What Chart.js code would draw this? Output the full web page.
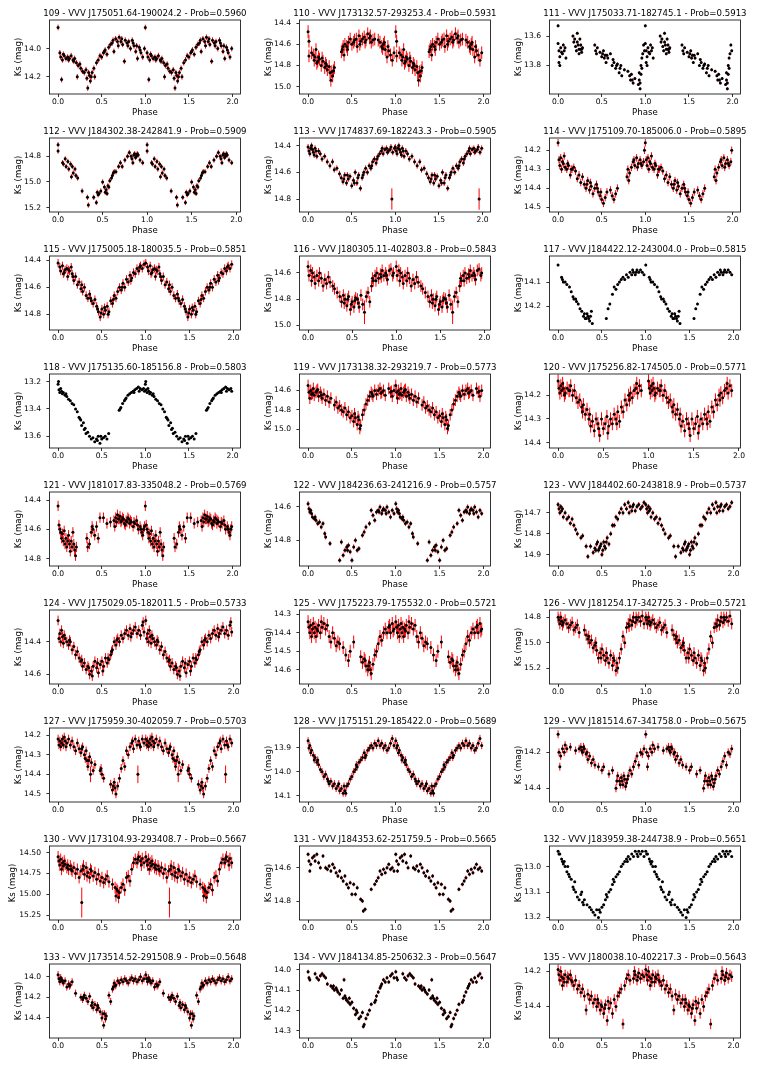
<!DOCTYPE html>
<html><head><meta charset="utf-8">
<script src="https://cdn.jsdelivr.net/npm/chart.js@4.4.1/dist/chart.umd.min.js"></script>
<style>
html,body{margin:0;padding:0;background:#fff;}
#fig{position:relative;width:764px;height:1077px;overflow:hidden;background:#fff;}
.pn{position:absolute;height:118px;}
</style></head><body><div id="fig"></div>
<script>
// ---------- panel titles ----------
const titles = [
"109 - VVV J175051.64-190024.2 - Prob=0.5960","110 - VVV J173132.57-293253.4 - Prob=0.5931","111 - VVV J175033.71-182745.1 - Prob=0.5913",
"112 - VVV J184302.38-242841.9 - Prob=0.5909","113 - VVV J174837.69-182243.3 - Prob=0.5905","114 - VVV J175109.70-185006.0 - Prob=0.5895",
"115 - VVV J175005.18-180035.5 - Prob=0.5851","116 - VVV J180305.11-402803.8 - Prob=0.5843","117 - VVV J184422.12-243004.0 - Prob=0.5815",
"118 - VVV J175135.60-185156.8 - Prob=0.5803","119 - VVV J173138.32-293219.7 - Prob=0.5773","120 - VVV J175256.82-174505.0 - Prob=0.5771",
"121 - VVV J181017.83-335048.2 - Prob=0.5769","122 - VVV J184236.63-241216.9 - Prob=0.5757","123 - VVV J184402.60-243818.9 - Prob=0.5737",
"124 - VVV J175029.05-182011.5 - Prob=0.5733","125 - VVV J175223.79-175532.0 - Prob=0.5721","126 - VVV J181254.17-342725.3 - Prob=0.5721",
"127 - VVV J175959.30-402059.7 - Prob=0.5703","128 - VVV J175151.29-185422.0 - Prob=0.5689","129 - VVV J181514.67-341758.0 - Prob=0.5675",
"130 - VVV J173104.93-293408.7 - Prob=0.5667","131 - VVV J184353.62-251759.5 - Prob=0.5665","132 - VVV J183959.38-244738.9 - Prob=0.5651",
"133 - VVV J173514.52-291508.9 - Prob=0.5648","134 - VVV J184134.85-250632.3 - Prob=0.5647","135 - VVV J180038.10-402217.3 - Prob=0.5643"];

// ---------- axis limits (top = brighter) and ticks ----------
const yTop    = [13.797,14.37,13.49, 14.658,14.343,14.135, 14.368,14.47,13.993, 13.145,14.432,14.11, 14.345,14.51,14.60, 14.206,14.277,14.742, 14.164,13.816,14.065, 14.42,14.47,12.919, 13.877,13.972,14.158];
const yBottom = [14.322,15.07,13.995, 15.234,14.897,14.526, 14.916,15.036,14.297, 13.685,15.191,14.423, 14.85,14.955,14.955, 14.659,14.677,15.326, 14.541,14.127,14.476, 15.31,14.914,13.21, 14.594,14.336,14.58];
const yTicks = [
 [14.0,14.2],[14.4,14.6,14.8,15.0],[13.6,13.8],
 [14.8,15.0,15.2],[14.4,14.6,14.8],[14.2,14.3,14.4,14.5],
 [14.4,14.6,14.8],[14.6,14.8,15.0],[14.1,14.2],
 [13.2,13.4,13.6],[14.6,14.8,15.0],[14.2,14.3,14.4],
 [14.4,14.6,14.8],[14.6,14.8],[14.7,14.8,14.9],
 [14.4,14.6],[14.3,14.4,14.5,14.6],[14.8,15.0,15.2],
 [14.2,14.3,14.4,14.5],[13.9,14.0,14.1],[14.2,14.4],
 [14.50,14.75,15.00,15.25],[14.6,14.8],[13.0,13.1,13.2],
 [14.0,14.2,14.4],[14.0,14.1,14.2,14.3],[14.2,14.4]];
const yDecimals = [1,1,1, 1,1,1, 1,1,1, 1,1,1, 1,1,1, 1,1,1, 1,1,1, 2,1,1, 1,1,1];
const xTicks = [0.0,0.5,1.0,1.5,2.0];
// typical Ks error of each star
const errs = [0.02,0.06,0.01, 0.02,0.022,0.02, 0.03,0.045,0.005, 0.006,0.06,0.028, 0.035,0.015,0.012, 0.03,0.035,0.045, 0.022,0.015,0.022, 0.07,0.012,0.003, 0.035,0.01,0.03];

// ---------- phase / Ks measurements (phase 0-1; the plot repeats them at phase+1) ----------
const d109 = [[0.00,13.85],[0.02,14.03],[0.03,14.06],[0.04,14.22],[0.05,14.08],[0.07,14.05],[0.09,14.07],[0.11,14.06],[0.13,14.07],[0.15,14.05],[0.17,14.08],[0.19,14.07],[0.21,14.10],[0.22,14.20],[0.23,14.12],[0.25,14.11],[0.28,14.16],[0.30,14.17],[0.32,14.15],[0.33,14.21],[0.34,14.28],[0.36,14.19],[0.37,14.23],[0.39,14.17],[0.41,14.14],[0.42,14.20],[0.44,14.10],[0.46,14.08],[0.48,14.05],[0.50,14.06],[0.52,14.03],[0.54,14.01],[0.56,14.04],[0.58,13.99],[0.60,13.97],[0.62,13.96],[0.64,14.02],[0.66,13.93],[0.68,13.95],[0.70,13.92],[0.72,13.95],[0.74,13.97],[0.76,14.09],[0.77,13.94],[0.79,13.96],[0.81,13.95],[0.83,14.00],[0.85,13.94],[0.87,13.98],[0.89,14.02],[0.91,14.07],[0.93,13.99],[0.95,14.03],[0.97,14.06],[0.99,14.00],[0.06,14.04],[0.12,14.08],[0.18,14.09],[0.26,14.14],[0.35,14.17],[0.38,14.20],[0.53,14.02],[0.63,13.94],[0.69,13.98],[0.73,13.93],[0.80,13.98],[0.86,13.96],[0.90,13.98],[0.94,14.01]];
const d110 = [[0.00,14.48],[0.01,14.57],[0.01,14.71],[0.06,14.70],[0.07,14.75],[0.08,14.72],[0.09,14.65],[0.10,14.78],[0.12,14.72],[0.13,14.74],[0.15,14.80],[0.17,14.76],[0.19,14.82],[0.20,14.78],[0.22,14.84],[0.24,14.81],[0.25,14.87],[0.26,14.94],[0.28,14.90],[0.29,14.85],[0.30,14.82],[0.38,14.67],[0.39,14.65],[0.41,14.70],[0.42,14.60],[0.44,14.62],[0.46,14.58],[0.48,14.55],[0.50,14.60],[0.52,14.58],[0.55,14.55],[0.56,14.62],[0.58,14.52],[0.60,14.57],[0.62,14.55],[0.64,14.53],[0.66,14.56],[0.68,14.50],[0.70,14.54],[0.72,14.58],[0.74,14.56],[0.76,14.55],[0.80,14.56],[0.82,14.58],[0.84,14.62],[0.86,14.60],[0.88,14.65],[0.90,14.72],[0.92,14.66],[0.94,14.70],[0.96,14.75],[0.98,14.68],[0.04,14.68],[0.11,14.76],[0.16,14.73],[0.21,14.80],[0.27,14.86],[0.40,14.62],[0.45,14.65],[0.53,14.56],[0.59,14.60],[0.65,14.58],[0.71,14.52],[0.85,14.64],[0.87,14.58],[0.91,14.62]];
const d111 = [[0.00,13.53],[0.00,13.65],[0.01,13.70],[0.01,13.78],[0.02,13.74],[0.03,13.68],[0.05,13.72],[0.06,13.66],[0.07,13.70],[0.08,13.68],[0.09,13.75],[0.17,13.60],[0.18,13.64],[0.20,13.67],[0.21,13.70],[0.22,13.58],[0.23,13.66],[0.24,13.72],[0.25,13.62],[0.26,13.69],[0.27,13.71],[0.28,13.68],[0.42,13.66],[0.43,13.70],[0.45,13.68],[0.48,13.71],[0.50,13.74],[0.52,13.70],[0.54,13.73],[0.55,13.78],[0.57,13.75],[0.60,13.72],[0.62,13.80],[0.64,13.78],[0.66,13.82],[0.68,13.79],[0.70,13.85],[0.72,13.80],[0.73,13.87],[0.76,13.83],[0.80,13.84],[0.83,13.90],[0.84,13.86],[0.86,13.92],[0.88,13.89],[0.92,13.93],[0.93,13.85],[0.94,13.96],[0.95,13.80],[0.96,13.75],[0.97,13.72],[0.98,13.66],[0.99,13.70],[0.02,13.80],[0.04,13.71],[0.19,13.62],[0.22,13.64],[0.24,13.69],[0.26,13.66],[0.27,13.69],[0.44,13.72],[0.51,13.72],[0.53,13.75],[0.56,13.73],[0.63,13.76],[0.67,13.80],[0.71,13.82],[0.82,13.87],[0.85,13.90],[0.93,13.90],[0.94,13.92],[0.95,13.86],[0.96,13.82]];
const d112 = [[0.00,14.71],[0.00,14.76],[0.05,14.85],[0.06,14.86],[0.08,14.82],[0.09,14.88],[0.11,14.84],[0.12,14.90],[0.14,14.86],[0.15,14.96],[0.16,14.88],[0.17,14.93],[0.19,14.90],[0.20,14.95],[0.22,14.97],[0.27,15.07],[0.33,15.12],[0.34,15.18],[0.40,15.12],[0.43,15.16],[0.44,15.08],[0.46,15.09],[0.48,15.07],[0.50,15.00],[0.52,15.04],[0.54,15.06],[0.55,15.09],[0.57,15.04],[0.58,14.99],[0.60,14.97],[0.62,14.93],[0.63,14.92],[0.65,14.92],[0.68,14.88],[0.70,14.85],[0.72,14.88],[0.75,14.83],[0.78,14.80],[0.80,14.77],[0.82,14.80],[0.84,14.85],[0.86,14.78],[0.88,14.80],[0.90,14.79],[0.92,14.83],[0.95,14.85],[0.85,14.79],[0.87,14.81],[0.89,14.78],[0.83,14.82],[0.53,15.08],[0.45,15.10],[0.56,15.03],[0.61,14.95]];
const d113 = [[0.00,14.41],[0.01,14.44],[0.02,14.46],[0.04,14.40],[0.05,14.43],[0.06,14.45],[0.08,14.42],[0.10,14.48],[0.12,14.44],[0.14,14.46],[0.16,14.50],[0.19,14.48],[0.22,14.52],[0.25,14.55],[0.28,14.52],[0.30,14.58],[0.33,14.57],[0.36,14.61],[0.38,14.64],[0.40,14.67],[0.42,14.62],[0.44,14.68],[0.46,14.65],[0.48,14.63],[0.50,14.70],[0.52,14.66],[0.54,14.60],[0.56,14.68],[0.58,14.62],[0.60,14.72],[0.62,14.64],[0.64,14.60],[0.66,14.57],[0.68,14.60],[0.70,14.55],[0.72,14.57],[0.74,14.52],[0.76,14.50],[0.78,14.53],[0.80,14.48],[0.82,14.46],[0.84,14.44],[0.86,14.46],[0.88,14.43],[0.90,14.42],[0.92,14.44],[0.94,14.43],[0.97,14.45],[0.99,14.42],[0.03,14.42],[0.07,14.47],[0.09,14.44],[0.41,14.65],[0.45,14.62],[0.53,14.68],[0.57,14.64],[0.63,14.62],[0.73,14.55],[0.79,14.50],[0.85,14.42],[0.91,14.45],[0.95,14.41]];
const d114 = [[0.00,14.16],[0.01,14.25],[0.02,14.28],[0.03,14.24],[0.04,14.30],[0.05,14.26],[0.06,14.27],[0.08,14.29],[0.10,14.30],[0.12,14.28],[0.14,14.33],[0.16,14.30],[0.18,14.29],[0.20,14.31],[0.22,14.35],[0.24,14.33],[0.26,14.37],[0.28,14.34],[0.30,14.38],[0.32,14.40],[0.34,14.36],[0.36,14.41],[0.38,14.39],[0.40,14.43],[0.42,14.40],[0.44,14.38],[0.46,14.42],[0.48,14.44],[0.50,14.46],[0.52,14.48],[0.54,14.45],[0.56,14.42],[0.60,14.41],[0.62,14.44],[0.64,14.46],[0.66,14.43],[0.68,14.40],[0.79,14.34],[0.80,14.30],[0.81,14.36],[0.82,14.32],[0.84,14.29],[0.86,14.26],[0.88,14.28],[0.90,14.24],[0.92,14.27],[0.94,14.25],[0.96,14.28],[0.98,14.26],[0.99,14.20],[0.07,14.23],[0.11,14.27],[0.15,14.30],[0.33,14.38],[0.37,14.37],[0.45,14.40],[0.49,14.42],[0.87,14.25],[0.91,14.29],[0.95,14.27]];
const d115 = [[0.00,14.42],[0.02,14.45],[0.03,14.48],[0.05,14.44],[0.06,14.50],[0.08,14.47],[0.10,14.46],[0.11,14.52],[0.13,14.48],[0.15,14.45],[0.16,14.50],[0.18,14.55],[0.20,14.52],[0.22,14.58],[0.24,14.56],[0.26,14.61],[0.28,14.63],[0.30,14.60],[0.32,14.66],[0.34,14.68],[0.36,14.65],[0.38,14.70],[0.40,14.72],[0.42,14.69],[0.44,14.74],[0.46,14.78],[0.48,14.82],[0.50,14.76],[0.52,14.80],[0.54,14.77],[0.56,14.74],[0.58,14.78],[0.60,14.70],[0.62,14.72],[0.64,14.66],[0.66,14.68],[0.68,14.63],[0.70,14.60],[0.72,14.62],[0.74,14.57],[0.76,14.60],[0.78,14.54],[0.80,14.56],[0.82,14.51],[0.84,14.53],[0.86,14.49],[0.88,14.50],[0.90,14.46],[0.92,14.48],[0.94,14.44],[0.96,14.46],[0.98,14.43],[0.07,14.49],[0.12,14.47],[0.17,14.52],[0.27,14.58],[0.37,14.68],[0.45,14.76],[0.49,14.79],[0.53,14.75],[0.57,14.80],[0.63,14.69],[0.73,14.60],[0.83,14.55],[0.93,14.45]];
const d116 = [[0.00,14.55],[0.01,14.62],[0.03,14.58],[0.04,14.66],[0.05,14.60],[0.07,14.63],[0.08,14.68],[0.10,14.62],[0.12,14.66],[0.13,14.60],[0.15,14.64],[0.17,14.70],[0.19,14.65],[0.21,14.68],[0.23,14.63],[0.25,14.67],[0.28,14.70],[0.30,14.72],[0.33,14.75],[0.36,14.78],[0.38,14.82],[0.40,14.77],[0.42,14.80],[0.44,14.85],[0.46,14.78],[0.48,14.88],[0.50,14.82],[0.52,14.86],[0.54,14.79],[0.56,14.80],[0.58,14.86],[0.60,14.77],[0.62,14.84],[0.66,14.78],[0.68,14.75],[0.70,14.82],[0.72,14.70],[0.74,14.66],[0.76,14.62],[0.78,14.60],[0.80,14.64],[0.82,14.61],[0.84,14.58],[0.86,14.62],[0.88,14.60],[0.90,14.65],[0.92,14.58],[0.94,14.57],[0.96,14.62],[0.97,14.60],[0.41,14.83],[0.45,14.80],[0.49,14.84],[0.53,14.81],[0.57,14.83],[0.73,14.64],[0.77,14.66],[0.83,14.63],[0.89,14.62]];
const d117 = [[0.00,14.03],[0.04,14.08],[0.05,14.09],[0.06,14.10],[0.08,14.10],[0.10,14.11],[0.13,14.12],[0.15,14.14],[0.17,14.16],[0.18,14.17],[0.20,14.17],[0.21,14.18],[0.23,14.19],[0.25,14.21],[0.27,14.22],[0.29,14.24],[0.30,14.23],[0.32,14.25],[0.34,14.24],[0.36,14.26],[0.38,14.22],[0.39,14.27],[0.55,14.25],[0.57,14.21],[0.59,14.19],[0.62,14.15],[0.64,14.12],[0.66,14.13],[0.68,14.11],[0.70,14.10],[0.72,14.09],[0.74,14.08],[0.76,14.09],[0.78,14.07],[0.80,14.08],[0.82,14.06],[0.84,14.07],[0.86,14.06],[0.88,14.07],[0.90,14.05],[0.92,14.06],[0.94,14.05],[0.96,14.06],[0.98,14.07],[0.31,14.25],[0.33,14.23],[0.35,14.25],[0.37,14.24],[0.85,14.05],[0.89,14.06]];
const d118 = [[0.00,13.22],[0.005,13.20],[0.01,13.26],[0.02,13.28],[0.03,13.25],[0.04,13.27],[0.06,13.28],[0.08,13.30],[0.10,13.31],[0.12,13.33],[0.14,13.34],[0.16,13.36],[0.18,13.37],[0.20,13.40],[0.22,13.42],[0.24,13.46],[0.26,13.48],[0.27,13.52],[0.29,13.50],[0.30,13.55],[0.32,13.58],[0.34,13.57],[0.36,13.60],[0.38,13.62],[0.40,13.61],[0.42,13.64],[0.44,13.62],[0.46,13.60],[0.48,13.65],[0.50,13.62],[0.52,13.61],[0.54,13.60],[0.56,13.62],[0.58,13.58],[0.70,13.41],[0.72,13.39],[0.74,13.36],[0.76,13.34],[0.78,13.32],[0.80,13.30],[0.82,13.29],[0.84,13.28],[0.86,13.27],[0.88,13.26],[0.90,13.25],[0.92,13.24],[0.94,13.25],[0.96,13.26],[0.98,13.25],[0.99,13.27],[0.05,13.29],[0.09,13.29],[0.25,13.47],[0.31,13.54],[0.45,13.63],[0.49,13.60],[0.71,13.40],[0.77,13.33],[0.87,13.28],[0.93,13.27]];
const d119 = [[0.00,14.55],[0.01,14.62],[0.02,14.68],[0.03,14.60],[0.04,14.64],[0.06,14.58],[0.07,14.65],[0.09,14.62],[0.10,14.60],[0.12,14.66],[0.14,14.62],[0.16,14.68],[0.18,14.64],[0.20,14.70],[0.22,14.66],[0.24,14.72],[0.26,14.68],[0.30,14.75],[0.32,14.72],[0.34,14.78],[0.36,14.76],[0.38,14.80],[0.40,14.82],[0.42,14.78],[0.44,14.85],[0.46,14.82],[0.48,14.88],[0.50,14.86],[0.52,14.92],[0.54,14.88],[0.56,14.95],[0.58,14.90],[0.60,14.96],[0.62,14.85],[0.64,14.80],[0.66,14.74],[0.68,14.70],[0.70,14.66],[0.72,14.62],[0.74,14.66],[0.76,14.60],[0.78,14.64],[0.80,14.60],[0.82,14.58],[0.84,14.62],[0.86,14.60],[0.88,14.65],[0.92,14.58],[0.94,14.62],[0.96,14.66],[0.98,14.60],[0.05,14.63],[0.11,14.59],[0.15,14.65],[0.53,14.84],[0.57,14.87],[0.59,14.99],[0.73,14.64],[0.83,14.63],[0.95,14.61]];
const d120 = [[0.00,14.14],[0.01,14.17],[0.02,14.19],[0.03,14.16],[0.04,14.18],[0.05,14.15],[0.06,14.17],[0.08,14.19],[0.10,14.17],[0.12,14.18],[0.14,14.16],[0.16,14.20],[0.18,14.18],[0.20,14.21],[0.22,14.23],[0.24,14.22],[0.26,14.25],[0.28,14.24],[0.30,14.28],[0.32,14.26],[0.34,14.30],[0.36,14.33],[0.38,14.31],[0.40,14.35],[0.42,14.30],[0.44,14.32],[0.46,14.37],[0.48,14.30],[0.50,14.34],[0.52,14.32],[0.54,14.29],[0.56,14.33],[0.58,14.30],[0.60,14.32],[0.62,14.28],[0.64,14.30],[0.66,14.27],[0.68,14.31],[0.70,14.25],[0.72,14.27],[0.74,14.22],[0.76,14.24],[0.78,14.20],[0.80,14.19],[0.82,14.21],[0.84,14.18],[0.86,14.17],[0.88,14.19],[0.90,14.16],[0.92,14.18],[0.07,14.20],[0.13,14.18],[0.27,14.27],[0.35,14.28],[0.45,14.34],[0.55,14.36],[0.65,14.32],[0.79,14.22],[0.87,14.15]];
const d121 = [[0.01,14.57],[0.02,14.60],[0.03,14.62],[0.04,14.66],[0.05,14.63],[0.06,14.68],[0.07,14.61],[0.08,14.70],[0.09,14.66],[0.10,14.72],[0.11,14.68],[0.12,14.64],[0.13,14.70],[0.14,14.75],[0.15,14.68],[0.16,14.72],[0.17,14.62],[0.18,14.70],[0.19,14.74],[0.20,14.78],[0.21,14.72],[0.33,14.66],[0.34,14.72],[0.36,14.70],[0.38,14.62],[0.39,14.58],[0.40,14.60],[0.42,14.64],[0.44,14.58],[0.46,14.66],[0.48,14.52],[0.52,14.52],[0.56,14.56],[0.60,14.55],[0.64,14.54],[0.65,14.58],[0.66,14.52],[0.68,14.50],[0.70,14.53],[0.72,14.55],[0.74,14.52],[0.76,14.56],[0.78,14.54],[0.80,14.52],[0.82,14.56],[0.84,14.55],[0.86,14.58],[0.88,14.56],[0.90,14.54],[0.92,14.60],[0.94,14.58],[0.96,14.62],[0.98,14.60],[0.99,14.58],[0.67,14.55],[0.69,14.53],[0.71,14.51],[0.73,14.54],[0.75,14.53],[0.77,14.57],[0.79,14.55],[0.81,14.53],[0.83,14.54],[0.87,14.55],[0.91,14.57],[0.95,14.60],[0.97,14.64]];
const d122 = [[0.00,14.58],[0.01,14.61],[0.02,14.63],[0.04,14.64],[0.05,14.66],[0.07,14.67],[0.09,14.68],[0.11,14.70],[0.13,14.69],[0.15,14.72],[0.17,14.70],[0.19,14.76],[0.20,14.78],[0.25,14.82],[0.36,14.92],[0.38,14.81],[0.40,14.89],[0.42,14.86],[0.44,14.84],[0.46,14.83],[0.48,14.87],[0.50,14.92],[0.52,14.84],[0.54,14.80],[0.56,14.86],[0.58,14.85],[0.62,14.77],[0.64,14.75],[0.66,14.72],[0.70,14.70],[0.72,14.62],[0.74,14.65],[0.76,14.68],[0.78,14.63],[0.80,14.62],[0.82,14.60],[0.84,14.64],[0.86,14.61],[0.88,14.62],[0.90,14.60],[0.92,14.63],[0.94,14.66],[0.96,14.62],[0.98,14.64],[0.03,14.62],[0.08,14.66],[0.45,14.86],[0.81,14.63],[0.85,14.62],[0.89,14.64]];
const d123 = [[0.00,14.66],[0.01,14.68],[0.02,14.70],[0.03,14.67],[0.04,14.69],[0.05,14.68],[0.06,14.72],[0.08,14.70],[0.10,14.73],[0.12,14.72],[0.14,14.75],[0.16,14.73],[0.18,14.76],[0.20,14.78],[0.22,14.80],[0.26,14.82],[0.28,14.81],[0.32,14.86],[0.34,14.91],[0.37,14.86],[0.40,14.89],[0.42,14.87],[0.44,14.85],[0.46,14.88],[0.48,14.86],[0.50,14.90],[0.52,14.84],[0.54,14.87],[0.56,14.82],[0.58,14.85],[0.60,14.80],[0.62,14.76],[0.64,14.76],[0.66,14.72],[0.68,14.73],[0.70,14.70],[0.72,14.68],[0.74,14.70],[0.76,14.66],[0.78,14.68],[0.80,14.65],[0.82,14.67],[0.84,14.69],[0.86,14.66],[0.90,14.67],[0.92,14.66],[0.94,14.68],[0.96,14.67],[0.98,14.65],[0.43,14.88],[0.45,14.84],[0.47,14.87],[0.49,14.85],[0.51,14.88],[0.53,14.86],[0.55,14.84],[0.81,14.70],[0.85,14.67],[0.88,14.69]];
const d124 = [[0.00,14.27],[0.01,14.38],[0.02,14.35],[0.03,14.40],[0.04,14.33],[0.05,14.37],[0.06,14.41],[0.08,14.38],[0.10,14.40],[0.12,14.42],[0.14,14.40],[0.16,14.45],[0.18,14.43],[0.20,14.48],[0.22,14.46],[0.24,14.50],[0.26,14.52],[0.28,14.55],[0.30,14.53],[0.32,14.57],[0.34,14.55],[0.36,14.60],[0.38,14.58],[0.40,14.55],[0.42,14.52],[0.44,14.56],[0.46,14.59],[0.48,14.54],[0.50,14.52],[0.52,14.55],[0.54,14.50],[0.56,14.53],[0.58,14.51],[0.60,14.48],[0.62,14.45],[0.64,14.40],[0.66,14.42],[0.68,14.38],[0.70,14.40],[0.72,14.36],[0.74,14.38],[0.76,14.35],[0.78,14.33],[0.80,14.36],[0.82,14.32],[0.84,14.35],[0.86,14.33],[0.88,14.31],[0.90,14.35],[0.92,14.33],[0.94,14.36],[0.96,14.30],[0.98,14.34],[0.07,14.36],[0.13,14.39],[0.27,14.51],[0.35,14.56],[0.39,14.61],[0.45,14.53],[0.51,14.58],[0.57,14.50],[0.61,14.46],[0.67,14.39],[0.83,14.37],[0.97,14.28]];
const d125 = [[0.00,14.34],[0.01,14.37],[0.02,14.40],[0.04,14.42],[0.05,14.38],[0.06,14.35],[0.07,14.40],[0.08,14.37],[0.09,14.42],[0.10,14.38],[0.12,14.36],[0.14,14.40],[0.16,14.37],[0.18,14.35],[0.20,14.38],[0.22,14.36],[0.24,14.42],[0.26,14.45],[0.28,14.40],[0.30,14.43],[0.32,14.47],[0.34,14.45],[0.36,14.46],[0.40,14.48],[0.43,14.52],[0.46,14.55],[0.48,14.50],[0.52,14.45],[0.60,14.53],[0.62,14.56],[0.64,14.54],[0.66,14.58],[0.68,14.60],[0.70,14.56],[0.72,14.62],[0.74,14.57],[0.76,14.52],[0.78,14.50],[0.80,14.46],[0.82,14.42],[0.84,14.44],[0.86,14.40],[0.88,14.38],[0.90,14.40],[0.92,14.37],[0.94,14.40],[0.96,14.35],[0.98,14.38],[0.03,14.36],[0.11,14.39],[0.15,14.34],[0.65,14.55],[0.69,14.58],[0.71,14.60],[0.93,14.36],[0.97,14.39]];
const d126 = [[0.00,14.80],[0.01,14.82],[0.02,14.85],[0.03,14.80],[0.04,14.83],[0.05,14.86],[0.06,14.84],[0.08,14.82],[0.10,14.85],[0.12,14.88],[0.14,14.86],[0.16,14.84],[0.18,14.90],[0.20,14.88],[0.22,14.86],[0.24,14.92],[0.30,14.90],[0.32,14.94],[0.34,14.97],[0.36,15.00],[0.38,14.98],[0.40,15.04],[0.42,15.02],[0.44,15.06],[0.46,15.12],[0.48,15.08],[0.50,15.05],[0.52,15.10],[0.54,15.14],[0.56,15.12],[0.58,15.16],[0.60,15.10],[0.62,15.18],[0.64,15.14],[0.66,15.22],[0.68,15.20],[0.70,15.12],[0.72,15.05],[0.74,14.95],[0.76,15.00],[0.78,14.88],[0.80,14.85],[0.82,14.82],[0.84,14.86],[0.86,14.80],[0.88,14.84],[0.90,14.82],[0.92,14.80],[0.94,14.83],[0.96,14.79],[0.98,14.85],[0.35,14.95],[0.43,15.00],[0.49,15.12],[0.55,15.08],[0.63,15.12],[0.67,15.16],[0.81,14.87],[0.85,14.83],[0.89,14.80]];
const d127 = [[0.00,14.22],[0.01,14.25],[0.02,14.23],[0.03,14.26],[0.04,14.24],[0.05,14.22],[0.06,14.25],[0.07,14.21],[0.08,14.23],[0.10,14.24],[0.12,14.22],[0.14,14.25],[0.16,14.23],[0.18,14.26],[0.20,14.28],[0.22,14.24],[0.24,14.27],[0.26,14.29],[0.28,14.26],[0.30,14.30],[0.32,14.28],[0.33,14.33],[0.34,14.36],[0.36,14.31],[0.38,14.34],[0.40,14.38],[0.42,14.35],[0.48,14.38],[0.50,14.40],[0.52,14.42],[0.60,14.45],[0.62,14.48],[0.64,14.44],[0.66,14.50],[0.68,14.46],[0.70,14.42],[0.72,14.37],[0.74,14.33],[0.76,14.36],[0.78,14.28],[0.80,14.30],[0.82,14.26],[0.84,14.24],[0.86,14.27],[0.88,14.22],[0.90,14.25],[0.92,14.23],[0.94,14.26],[0.96,14.22],[0.98,14.24],[0.09,14.26],[0.27,14.27],[0.31,14.32],[0.35,14.33],[0.49,14.37],[0.63,14.46],[0.65,14.47],[0.85,14.23],[0.93,14.25]];
const d128 = [[0.00,13.87],[0.01,13.90],[0.02,13.89],[0.03,13.92],[0.04,13.91],[0.06,13.93],[0.07,13.95],[0.08,13.94],[0.10,13.96],[0.12,13.97],[0.14,13.99],[0.16,14.00],[0.18,14.02],[0.20,14.01],[0.22,14.03],[0.24,14.05],[0.26,14.04],[0.28,14.06],[0.30,14.05],[0.32,14.07],[0.34,14.06],[0.36,14.08],[0.38,14.07],[0.40,14.09],[0.42,14.08],[0.44,14.06],[0.46,14.05],[0.48,14.03],[0.50,14.02],[0.52,14.00],[0.54,13.99],[0.56,13.98],[0.58,13.96],[0.60,13.95],[0.62,13.94],[0.64,13.92],[0.66,13.93],[0.68,13.91],[0.70,13.90],[0.72,13.89],[0.74,13.90],[0.76,13.88],[0.78,13.89],[0.80,13.87],[0.82,13.89],[0.84,13.88],[0.86,13.90],[0.88,13.89],[0.90,13.91],[0.92,13.90],[0.94,13.88],[0.96,13.86],[0.98,13.89],[0.11,13.95],[0.23,14.04],[0.35,14.05],[0.41,14.06],[0.43,14.09],[0.55,13.97],[0.65,13.94]];
const d129 = [[0.00,14.10],[0.01,14.20],[0.02,14.28],[0.03,14.22],[0.05,14.18],[0.07,14.20],[0.08,14.16],[0.10,14.18],[0.14,14.17],[0.20,14.19],[0.24,14.18],[0.26,14.17],[0.28,14.20],[0.30,14.18],[0.32,14.21],[0.34,14.24],[0.36,14.22],[0.38,14.26],[0.40,14.24],[0.42,14.27],[0.46,14.28],[0.50,14.30],[0.52,14.28],[0.58,14.32],[0.62,14.30],[0.66,14.40],[0.68,14.33],[0.70,14.36],[0.72,14.34],[0.74,14.38],[0.76,14.35],[0.78,14.37],[0.80,14.33],[0.82,14.30],[0.84,14.32],[0.86,14.28],[0.88,14.25],[0.90,14.22],[0.92,14.27],[0.94,14.20],[0.96,14.21],[0.98,14.18],[0.27,14.19],[0.29,14.17],[0.33,14.20],[0.67,14.36],[0.71,14.38],[0.73,14.36],[0.75,14.33],[0.77,14.39],[0.79,14.35]];
const d130 = [[0.00,14.55],[0.01,14.60],[0.02,14.65],[0.03,14.58],[0.04,14.70],[0.05,14.62],[0.06,14.66],[0.08,14.64],[0.10,14.68],[0.12,14.70],[0.14,14.66],[0.16,14.72],[0.18,14.68],[0.20,14.75],[0.22,14.70],[0.24,14.80],[0.26,14.72],[0.28,14.70],[0.30,14.76],[0.32,14.68],[0.34,14.74],[0.36,14.80],[0.38,14.72],[0.40,14.78],[0.42,14.74],[0.44,14.82],[0.46,14.76],[0.48,14.84],[0.50,14.80],[0.52,14.86],[0.54,14.82],[0.56,14.78],[0.58,14.85],[0.62,14.88],[0.65,14.92],[0.66,15.02],[0.68,14.96],[0.70,14.98],[0.72,14.92],[0.74,14.88],[0.76,14.95],[0.78,14.80],[0.80,14.78],[0.82,14.84],[0.84,14.70],[0.86,14.62],[0.88,14.58],[0.90,14.62],[0.92,14.55],[0.94,14.60],[0.96,14.57],[0.98,14.62],[0.07,14.60],[0.11,14.65],[0.15,14.70],[0.29,14.66],[0.33,14.78],[0.37,14.70],[0.67,14.94],[0.69,15.04],[0.91,14.58],[0.95,14.65]];
const d131 = [[0.00,14.52],[0.01,14.56],[0.02,14.62],[0.03,14.58],[0.05,14.54],[0.07,14.53],[0.08,14.56],[0.10,14.52],[0.12,14.57],[0.14,14.60],[0.17,14.53],[0.20,14.60],[0.22,14.61],[0.24,14.59],[0.26,14.62],[0.28,14.58],[0.30,14.60],[0.32,14.63],[0.34,14.65],[0.36,14.62],[0.38,14.66],[0.40,14.68],[0.42,14.65],[0.44,14.70],[0.46,14.72],[0.48,14.69],[0.50,14.76],[0.52,14.70],[0.54,14.76],[0.56,14.72],[0.60,14.79],[0.62,14.80],[0.63,14.86],[0.65,14.85],[0.72,14.73],[0.76,14.70],[0.78,14.68],[0.80,14.66],[0.82,14.62],[0.84,14.64],[0.86,14.61],[0.88,14.63],[0.90,14.60],[0.92,14.58],[0.94,14.61],[0.96,14.60],[0.98,14.62]];
const d132 = [[0.00,12.94],[0.01,12.95],[0.02,12.95],[0.04,12.97],[0.05,12.98],[0.06,12.99],[0.08,13.00],[0.10,13.02],[0.12,13.03],[0.13,13.04],[0.15,13.05],[0.17,13.08],[0.18,13.09],[0.20,13.10],[0.22,13.12],[0.24,13.13],[0.26,13.11],[0.28,13.14],[0.30,13.13],[0.33,13.15],[0.36,13.16],[0.38,13.17],[0.40,13.18],[0.42,13.19],[0.44,13.17],[0.46,13.20],[0.48,13.18],[0.50,13.16],[0.52,13.15],[0.54,13.13],[0.56,13.12],[0.58,13.10],[0.60,13.09],[0.62,13.07],[0.64,13.06],[0.66,13.04],[0.68,13.03],[0.70,13.02],[0.72,13.00],[0.74,12.99],[0.76,12.98],[0.78,12.97],[0.80,12.96],[0.82,12.97],[0.84,12.95],[0.86,12.96],[0.88,12.94],[0.90,12.95],[0.92,12.94],[0.94,12.95],[0.96,12.94],[0.98,12.96],[0.07,12.98],[0.11,13.00],[0.19,13.06],[0.27,13.10],[0.29,13.15],[0.47,13.17],[0.55,13.11],[0.63,13.05],[0.79,12.98],[0.91,12.96]];
const d133 = [[0.00,13.98],[0.01,14.02],[0.02,14.05],[0.03,14.01],[0.04,14.03],[0.06,14.06],[0.08,14.04],[0.10,14.10],[0.12,14.07],[0.14,14.08],[0.16,14.05],[0.20,14.16],[0.26,14.20],[0.28,14.22],[0.30,14.18],[0.32,14.21],[0.34,14.24],[0.36,14.19],[0.38,14.28],[0.40,14.30],[0.42,14.27],[0.44,14.32],[0.46,14.30],[0.48,14.34],[0.50,14.40],[0.52,14.47],[0.53,14.36],[0.55,14.38],[0.58,14.18],[0.60,14.24],[0.62,14.12],[0.64,14.06],[0.66,14.08],[0.68,14.04],[0.70,14.06],[0.72,14.03],[0.74,14.05],[0.76,14.02],[0.78,14.04],[0.80,14.06],[0.82,14.03],[0.84,14.01],[0.86,14.04],[0.88,14.02],[0.90,14.05],[0.92,14.03],[0.94,14.00],[0.96,14.04],[0.98,14.02],[0.05,14.04],[0.13,14.09],[0.29,14.20],[0.39,14.25],[0.45,14.28],[0.51,14.36],[0.54,14.41],[0.63,14.10],[0.65,14.09]];
const d134 = [[0.00,14.01],[0.01,14.04],[0.02,14.05],[0.08,14.02],[0.10,14.04],[0.12,14.05],[0.14,14.03],[0.16,14.02],[0.18,14.03],[0.20,14.04],[0.22,14.07],[0.26,14.08],[0.28,14.09],[0.30,14.10],[0.32,14.09],[0.34,14.11],[0.36,14.12],[0.38,14.10],[0.40,14.14],[0.41,14.05],[0.42,14.13],[0.44,14.15],[0.46,14.16],[0.48,14.17],[0.50,14.16],[0.52,14.19],[0.54,14.22],[0.56,14.21],[0.58,14.24],[0.60,14.23],[0.62,14.21],[0.63,14.28],[0.64,14.27],[0.66,14.24],[0.68,14.22],[0.70,14.20],[0.72,14.17],[0.76,14.16],[0.78,14.13],[0.80,14.11],[0.82,14.09],[0.84,14.07],[0.86,14.05],[0.88,14.06],[0.90,14.04],[0.92,14.06],[0.94,14.03],[0.96,14.02],[0.98,14.04],[0.29,14.08],[0.33,14.10],[0.43,14.14],[0.47,14.14],[0.55,14.20],[0.77,14.15],[0.83,14.08]];
const d135 = [[0.00,14.19],[0.01,14.22],[0.02,14.25],[0.03,14.20],[0.04,14.23],[0.05,14.28],[0.06,14.24],[0.08,14.22],[0.10,14.26],[0.12,14.24],[0.14,14.22],[0.16,14.26],[0.18,14.28],[0.20,14.25],[0.22,14.30],[0.24,14.28],[0.26,14.32],[0.28,14.30],[0.30,14.34],[0.32,14.42],[0.34,14.33],[0.36,14.36],[0.38,14.34],[0.40,14.38],[0.42,14.36],[0.44,14.40],[0.46,14.38],[0.48,14.42],[0.50,14.40],[0.52,14.44],[0.54,14.39],[0.56,14.48],[0.58,14.41],[0.60,14.38],[0.62,14.44],[0.64,14.36],[0.66,14.40],[0.68,14.34],[0.70,14.32],[0.72,14.30],[0.74,14.50],[0.76,14.28],[0.78,14.24],[0.80,14.22],[0.82,14.25],[0.86,14.24],[0.88,14.22],[0.90,14.25],[0.92,14.21],[0.94,14.24],[0.96,14.22],[0.98,14.23],[0.07,14.26],[0.11,14.23],[0.15,14.25],[0.45,14.36],[0.49,14.39],[0.53,14.41],[0.57,14.37],[0.87,14.20],[0.91,14.23]];

// points with their own (large) errors: [phase, Ks, error]
const out113 = [[0.96,14.80,0.08]];
const out116 = [[0.64,14.90,0.09]];
const out121 = [[0.00,14.44,0.035]];
const out127 = [[0.37,14.40,0.04],[0.91,14.40,0.045]];
const out130 = [[0.27,15.10,0.18]];

const series = [d109,d110,d111,d112,d113,d114,d115,d116,d117,d118,d119,d120,d121,d122,d123,d124,d125,d126,d127,d128,d129,d130,d131,d132,d133,d134,d135];
const extras = [[],[],[],[],out113,[],[],out116,[],[],[],[],out121,[],[],[],[],[],out127,[],[],out130,[],[],[],[],[]];

// ---------- drawing ----------
const FAM = "'DejaVu Sans', sans-serif";
Chart.defaults.font.family = FAM;
Chart.defaults.color = '#000';
const TICKFONT = {family: FAM, size: 7.6};
const LABELFONT = {family: FAM, size: 8.6};
const TITLESIZE = 8.6;

const errorBars = {
  id: 'errorBars',
  beforeDatasetsDraw(chart) {
    const {ctx, chartArea: a, scales: {x, y}} = chart;
    ctx.save();
    ctx.beginPath(); ctx.rect(a.left, a.top, a.right - a.left, a.bottom - a.top); ctx.clip();
    ctx.strokeStyle = '#ff0000'; ctx.lineWidth = 1;
    ctx.beginPath();
    chart.data.datasets[0].data.forEach(p => {
      const px = x.getPixelForValue(p.x);
      ctx.moveTo(px, y.getPixelForValue(p.y - p.e));
      ctx.lineTo(px, y.getPixelForValue(p.y + p.e));
    });
    ctx.stroke();
    ctx.restore();
  }
};
// axes frame + panel title centred over the axes box
const frame = {
  id: 'frame',
  afterDraw(chart, args, opts) {
    const {ctx, chartArea: a} = chart;
    ctx.save(); ctx.strokeStyle = '#000'; ctx.lineWidth = 0.8;
    ctx.strokeRect(a.left, a.top, a.right - a.left, a.bottom - a.top);
    ctx.fillStyle = '#000';
    ctx.font = TITLESIZE + "px " + FAM;
    ctx.textAlign = 'center'; ctx.textBaseline = 'middle';
    ctx.fillText(opts.text, (a.left + a.right) / 2, a.top - 6.7);
    ctx.restore();
  }
};

const fig = document.getElementById('fig');
const AXL = 49.4, BOXW = 191, CW = 260, CH = 118;
titles.forEach((t, i) => {
  const row = Math.floor(i / 3), col = i % 3;
  const div = document.createElement('div');
  div.className = 'pn';
  div.style.width = CW + 'px';
  div.style.left = Math.round(49.4 + 249.9 * col - AXL) + 'px';
  div.style.top = Math.round(118 * row) + 'px';
  const cv = document.createElement('canvas');
  cv.width = CW; cv.height = CH;
  cv.style.width = CW + 'px'; cv.style.height = CH + 'px';
  div.appendChild(cv); fig.appendChild(div);

  const e = errs[i];
  const base = series[i].map(p => ({x: p[0], y: p[1], e: e}));
  const ext = extras[i].map(p => ({x: p[0], y: p[1], e: p[2]}));
  const one = base.concat(ext);
  const pts = one.concat(one.map(p => ({x: p.x + 1, y: p.y, e: p.e})));
  const xs = pts.map(p => p.x);
  const x0 = Math.min(...xs), x1 = Math.max(...xs), m = 0.05 * (x1 - x0);
  const dec = yDecimals[i];
  // wider tick labels push the y-axis title further left
  const yTitlePad = dec === 2 ? 7.6 : 13.6;

  new Chart(cv, {
    type: 'scatter',
    data: {datasets: [{data: pts, pointRadius: 1.5, pointBackgroundColor: '#000', pointBorderWidth: 0, pointHoverRadius: 1.5}]},
    plugins: [errorBars, frame],
    options: {
      responsive: false, animation: false, events: [],
      layout: {padding: {left: 0, right: CW - AXL - BOXW, top: 20, bottom: 0}},
      plugins: {
        legend: {display: false}, tooltip: {enabled: false}, title: {display: false},
        frame: {text: t}
      },
      scales: {
        x: {
          type: 'linear', min: x0 - m, max: x1 + m,
          afterBuildTicks: ax => { ax.ticks = xTicks.map(v => ({value: v})); },
          afterFit: ax => { ax.height = 24; },
          ticks: {callback: v => Number(v).toFixed(1), color: '#000', font: TICKFONT, padding: 0.3, maxRotation: 0, autoSkip: false},
          grid: {drawOnChartArea: false, drawTicks: true, tickLength: 3, tickColor: '#000', tickWidth: 0.8},
          border: {display: false},
          title: {display: true, text: 'Phase', color: '#000', font: LABELFONT, padding: {top: 0, bottom: 0.2}}
        },
        y: {
          type: 'linear', reverse: true, min: yTop[i], max: yBottom[i],
          afterBuildTicks: ax => { ax.ticks = yTicks[i].map(v => ({value: v})); },
          afterFit: ax => { ax.width = AXL; },
          ticks: {callback: v => Number(v).toFixed(dec), color: '#000', font: TICKFONT, padding: 5.4, autoSkip: false},
          grid: {drawOnChartArea: false, drawTicks: true, tickLength: 3, tickColor: '#000', tickWidth: 0.8},
          border: {display: false},
          title: {display: true, text: 'Ks (mag)', color: '#000', font: LABELFONT, padding: {top: yTitlePad, bottom: 0}}
        }
      }
    }
  });
});
</script>
</body></html>
